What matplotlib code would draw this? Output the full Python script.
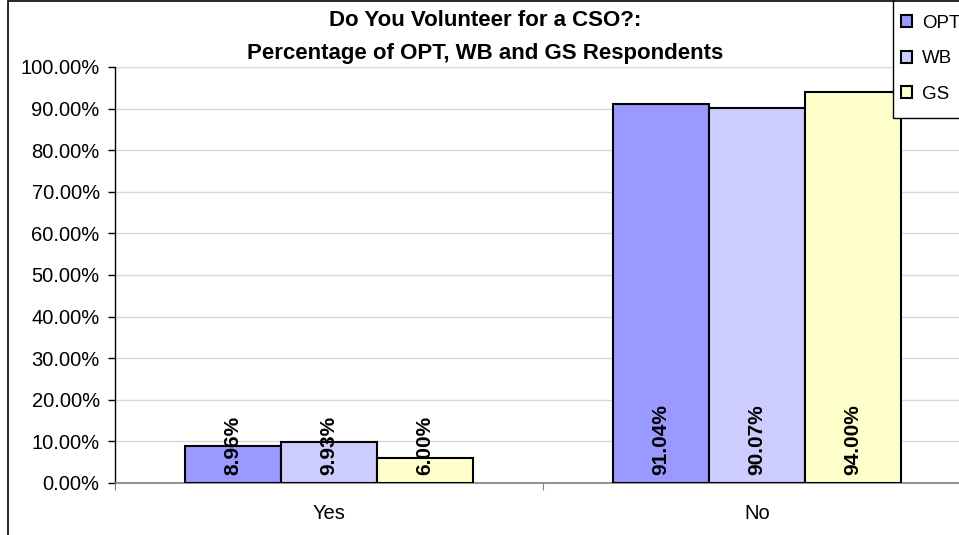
import numpy as np
import matplotlib.pyplot as plt
from matplotlib.patches import Rectangle

plt.rcParams['font.family'] = ['Liberation Sans', 'DejaVu Sans']

categories = ['Yes', 'No']
series = ['OPT', 'WB', 'GS']
opt = [8.96, 91.04]
wb = [9.93, 90.07]
gs = [6.00, 94.00]
colors = ['#9999FF', '#CCCCFF', '#FFFFCC']

fig = plt.figure(figsize=(9.59, 5.35), dpi=100)
W, H = 959, 535
ax = fig.add_axes([115 / W, (H - 483) / H, (971 - 115) / W, (483 - 67) / H])

x = np.arange(len(categories)) + 0.5
bw = 0.224
for i, (name, vals) in enumerate(zip(series, [opt, wb, gs])):
    pos = x + (i - 1) * bw
    ax.bar(pos, vals, width=bw, color=colors[i], edgecolor='black',
           linewidth=1.5, label=name, zorder=3)
    for px, v in zip(pos, vals):
        ax.annotate(f'{v:.2f}%', (px, 0), xytext=(0, 6), textcoords='offset points',
                    rotation=90, ha='center', va='bottom', fontsize=15,
                    fontweight='bold', zorder=4)

ax.set_xlim(0, 2)
ax.set_ylim(0, 100)
ax.set_yticks(np.arange(0, 101, 10))
ax.set_yticklabels([f'{t:.2f}%' for t in range(0, 101, 10)], fontsize=14.5)
ax.yaxis.grid(True, color='#D8D8D8', linewidth=1, zorder=0)
ax.set_xticks([0, 1, 2])
ax.set_xticklabels([])
ax.set_xticks(x, minor=True)
ax.set_xticklabels(categories, minor=True, fontsize=14.5)
ax.tick_params(axis='x', which='minor', length=0, pad=15)
ax.tick_params(axis='x', which='major', length=5, color='#808080')
ax.tick_params(axis='y', length=5, width=1, pad=6)
for s in ['top', 'right']:
    ax.spines[s].set_visible(False)
ax.spines['left'].set_linewidth(1)
ax.spines['bottom'].set_color('#808080')
ax.spines['bottom'].set_linewidth(1.2)

fig.text(485 / W, 1 - 20 / H, 'Do You Volunteer for a CSO?:', ha='center', va='center',
         fontsize=16, fontweight='bold')
fig.text(485 / W, 1 - 53 / H, 'Percentage of OPT, WB and GS Respondents', ha='center',
         va='center', fontsize=16, fontweight='bold')

# legend box runs past the top and right edges of the chart
fig.patches.append(Rectangle((893 / W, (H - 118) / H), 1.0, 1.0, transform=fig.transFigure,
                             facecolor='white', edgecolor='black', linewidth=1, zorder=5))
leg = fig.legend(loc='upper left', bbox_to_anchor=(893 / W, 1 - 7 / H), fontsize=13.5,
                 frameon=False, handlelength=0.6, handleheight=0.6, handletextpad=0.55,
                 labelspacing=1.0, borderpad=0.4, borderaxespad=0)
leg.set_zorder(6)

# chart border
fig.patches.append(Rectangle((8 / W, -0.1), 1.2, 1.1 - 1 / H, transform=fig.transFigure,
                             fill=False, edgecolor='black', linewidth=1.2, zorder=10))

fig.savefig('out.png', dpi=100)
